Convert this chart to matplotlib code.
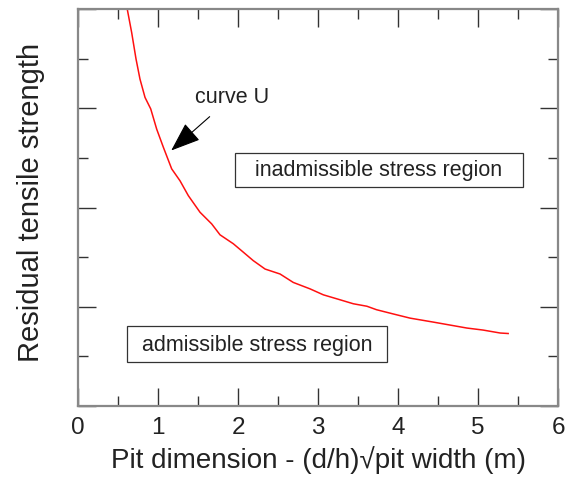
import numpy as np
import matplotlib.pyplot as plt
from matplotlib.patches import Rectangle
from matplotlib.ticker import MultipleLocator

plt.rcParams['font.family'] = ['Liberation Sans', 'DejaVu Sans']

# curve U
pit_dim = [0.616, 0.671, 0.725, 0.775, 0.838, 0.909, 0.984, 1.066, 1.171,
           1.275, 1.379, 1.525, 1.671, 1.775, 1.941, 2.066, 2.19, 2.338,
           2.525, 2.69, 2.90, 3.066, 3.275, 3.44, 3.61, 3.73, 3.95, 4.15,
           4.44, 4.65, 4.86, 5.06, 5.275, 5.375]
strength = [8.0, 7.53, 7.00, 6.59, 6.22, 5.99, 5.58, 5.22, 4.78,
            4.54, 4.24, 3.905, 3.67, 3.45, 3.27, 3.10, 2.93, 2.76,
            2.66, 2.49, 2.36, 2.24, 2.14, 2.06, 2.01, 1.94, 1.85, 1.77,
            1.69, 1.63, 1.57, 1.53, 1.47, 1.46]

region_labels = ["inadmissible stress region", "admissible stress region"]
region_boxes = [(1.96, 4.415, 5.56, 5.10), (0.61, 0.887, 3.86, 1.61)]

fig = plt.figure(figsize=(5.69, 4.85), dpi=100)
ax = fig.add_axes([0.137, 0.161, 0.844, 0.818])

ax.plot(pit_dim, strength, color='#ff1010', lw=1.1)

for lab, (x0, y0, x1, y1) in zip(region_labels, region_boxes):
    ax.add_patch(Rectangle((x0, y0), x1 - x0, y1 - y0, fill=False,
                           ec='#333333', lw=0.9))
    ax.text((x0 + x1) / 2, (y0 + y1) / 2, lab, ha='center', va='center',
            fontsize=15.5, color='#222222')

ax.annotate("curve U", xy=(1.165, 5.15), xytext=(1.925, 6.23),
            ha='center', va='center', fontsize=15.5, color='#222222',
            arrowprops=dict(arrowstyle='-|>,head_length=1.2,head_width=0.45',
                            color='black', lw=0.8, shrinkA=7, shrinkB=0))

ax.set_xlim(0, 6)
ax.set_ylim(0, 8)
ax.xaxis.set_major_locator(MultipleLocator(1))
ax.xaxis.set_minor_locator(MultipleLocator(0.5))
ax.yaxis.set_major_locator(MultipleLocator(2))
ax.yaxis.set_minor_locator(MultipleLocator(1))
ax.tick_params(which='both', direction='in', top=True, right=True,
               color='#333333', width=1.0)
ax.tick_params(which='major', length=13, labelsize=17.5, pad=7,
               labelcolor='#222222')
ax.tick_params(which='minor', length=7)
ax.set_yticklabels([])
for s in ax.spines.values():
    s.set_color('#888888')
    s.set_linewidth(1.6)

ax.set_xlabel("Pit dimension - (d/h)\u221apit width (m)", fontsize=20,
              labelpad=5, color='#222222')
ax.set_ylabel("Residual tensile strength", fontsize=21, color='#222222')
ax.yaxis.set_label_coords(-0.068, 0.515)

fig.savefig("out.png", dpi=100)
